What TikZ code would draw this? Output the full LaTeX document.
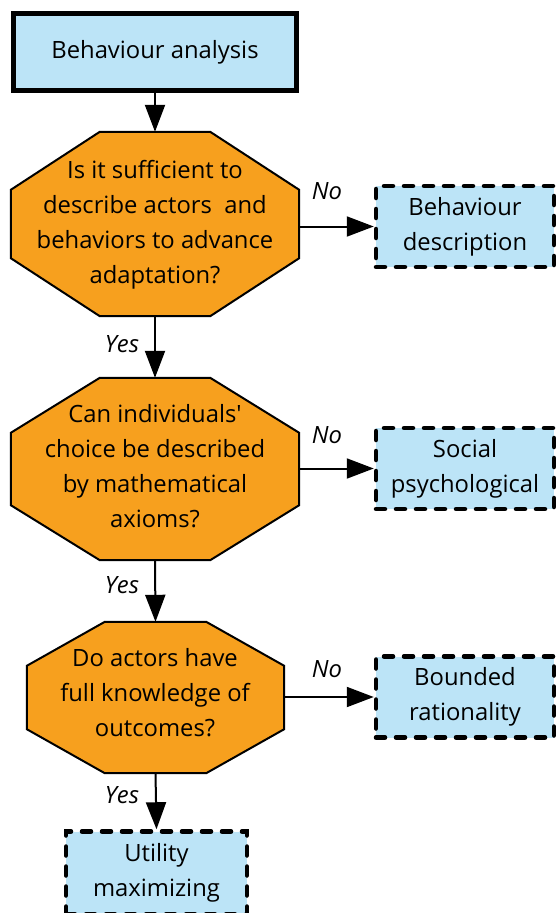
\documentclass[tikz,border=0pt]{standalone}
\usepackage{fontspec}
\setmainfont{Open Sans}
\usetikzlibrary{arrows.meta,calc}
\definecolor{boxblue}{RGB}{188,228,247}
\definecolor{octorange}{RGB}{247,160,30}
\newcommand\basefont{\fontsize{23.8}{35}\selectfont}
\newcommand\straightquote{{\addfontfeatures{Ligatures=TeXOff}'}}
\tikzset{
  mainbox/.style={draw=black, fill=boxblue, line width=4.5pt, minimum width=283pt, minimum height=77pt, inner sep=0pt, align=center},
  endbox/.style={draw=black, fill=boxblue, line width=4.5pt, dash pattern=on 9pt off 11pt, line cap=round, minimum width=178pt, minimum height=81pt, inner sep=0pt, align=center},
  octnode/.style={inner sep=0pt, align=center},
  octline/.style={draw=black, fill=octorange, line width=2pt, line join=miter},
  conn/.style={line width=2pt, -{Triangle[length=27pt,width=20pt]}},
  lbl/.style={font=\basefont\itshape, inner sep=0pt},
}
\newcommand\octagonof[3]{%
  \draw[octline] ($(#1.north west)+(#2,0)$) -- ($(#1.north east)+(-#2,0)$)
    -- ($(#1.north east)+(0,#3)$) -- ($(#1.south east)+(0,-#3)$)
    -- ($(#1.south east)+(-#2,0)$) -- ($(#1.south west)+(#2,0)$)
    -- ($(#1.south west)+(0,-#3)$) -- ($(#1.north west)+(0,#3)$) -- cycle;}
\begin{document}
\begin{tikzpicture}[x=1pt,y=-1pt,font=\basefont]
\useasboundingbox (0,0) rectangle (558,913);
% octagon frames (invisible nodes hold size)
\path node[minimum width=288pt, minimum height=184pt, inner sep=0pt] (q1f) at (155,224) {};
\path node[minimum width=288pt, minimum height=182pt, inner sep=0pt] (q2f) at (155,469) {};
\path node[minimum width=257pt, minimum height=151pt, inner sep=0pt] (q3f) at (155.5,697.5) {};
\octagonof{q1f}{89}{58}
\octagonof{q2f}{89}{55}
\octagonof{q3f}{78}{44}
\node[octnode] (q1) at (155,225) {Is it sufficient to\\describe actors\ \ and\\behaviors to advance\\adaptation?};
\node[octnode] (q2) at (155,466) {Can individuals\straightquote\\choice be described\\by mathematical\\axioms?};
\node[octnode] (q3) at (155,693) {Do actors have\\full knowledge of\\outcomes?};
% boxes
\node[mainbox] (a) at (155,52) {Behaviour analysis};
\node[endbox] (b1) at (465,226.5) {Behaviour\\description};
\node[endbox] (b2) at (465,468.5) {Social\\psychological};
\node[endbox] (b3) at (465,697) {Bounded\\rationality};
\node[endbox, minimum width=181pt, minimum height=83pt] (b4) at (156.5,873) {Utility\\maximizing};
% connectors
\draw[conn] (a.south) -- (q1f.north);
\draw[conn] (q1f.south) -- (q2f.north);
\draw[conn] (q2f.south) -- (q3f.north);
\draw[conn] (q3f.south) -- (b4.north);
\draw[conn] (b1.west -| q1f.east) -- (b1.west);
\draw[conn] (b2.west -| q2f.east) -- (b2.west);
\draw[conn] (b3.west -| q3f.east) -- (b3.west);
% labels
\node[lbl] (n1) at (327,191) {No};
\node[lbl] (n2) at (327,435) {No};
\node[lbl] (n3) at (327,669) {No};
\node[lbl] (y1) at (122,344) {Yes};
\node[lbl] (y2) at (122,585) {Yes};
\node[lbl] (y3) at (122,795) {Yes};
\end{tikzpicture}
\end{document}
